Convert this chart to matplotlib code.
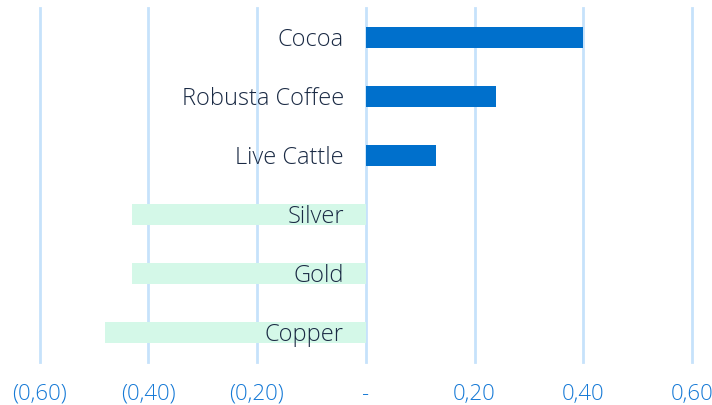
import matplotlib
matplotlib.use("Agg")
import matplotlib.pyplot as plt

# Commodity returns
categories = ["Cocoa", "Robusta Coffee", "Live Cattle", "Silver", "Gold", "Copper"]
values = [0.40, 0.24, 0.13, -0.43, -0.43, -0.48]
tick_values = [-0.6, -0.4, -0.2, 0.0, 0.2, 0.4, 0.6]
tick_labels = ["(0,60)", "(0,40)", "(0,20)", "-", "0,20", "0,40", "0,60"]

pos_color = "#0070cc"
neg_color = "#d4f8e8"
grid_color = "#c6e2fb"
tick_color = "#1579d6"
label_color = "#1a2a44"

plt.rcParams["font.family"] = ["Open Sans", "DejaVu Sans"]

fig = plt.figure(figsize=(7.12, 4.06), dpi=100)
ax = fig.add_axes([39.5 / 712, 43 / 406, (692 - 39.5) / 712, 354 / 406])

ypos = list(range(len(categories)))
colors = [pos_color if v >= 0 else neg_color for v in values]
ax.barh(ypos, values, height=0.36, color=colors, zorder=3)

for y, name in zip(ypos, categories):
    ax.text(-0.04, y + 0.02, name, ha="right", va="center", fontsize=17,
            fontweight="light", color=label_color, zorder=4)

ax.set_xlim(-0.6, 0.6)
ax.set_ylim(len(categories) - 0.5, -0.5)
ax.set_xticks(tick_values)
ax.set_xticklabels(tick_labels)
ax.set_yticks([])
ax.tick_params(axis="x", length=0, pad=15, labelsize=16, labelcolor=tick_color)
for lbl in ax.get_xticklabels():
    lbl.set_fontweight("light")
for t in tick_values:
    ax.axvline(t, color=grid_color, linewidth=2, zorder=1, clip_on=False)
for s in ax.spines.values():
    s.set_visible(False)

fig.savefig("out.png", dpi=100)
